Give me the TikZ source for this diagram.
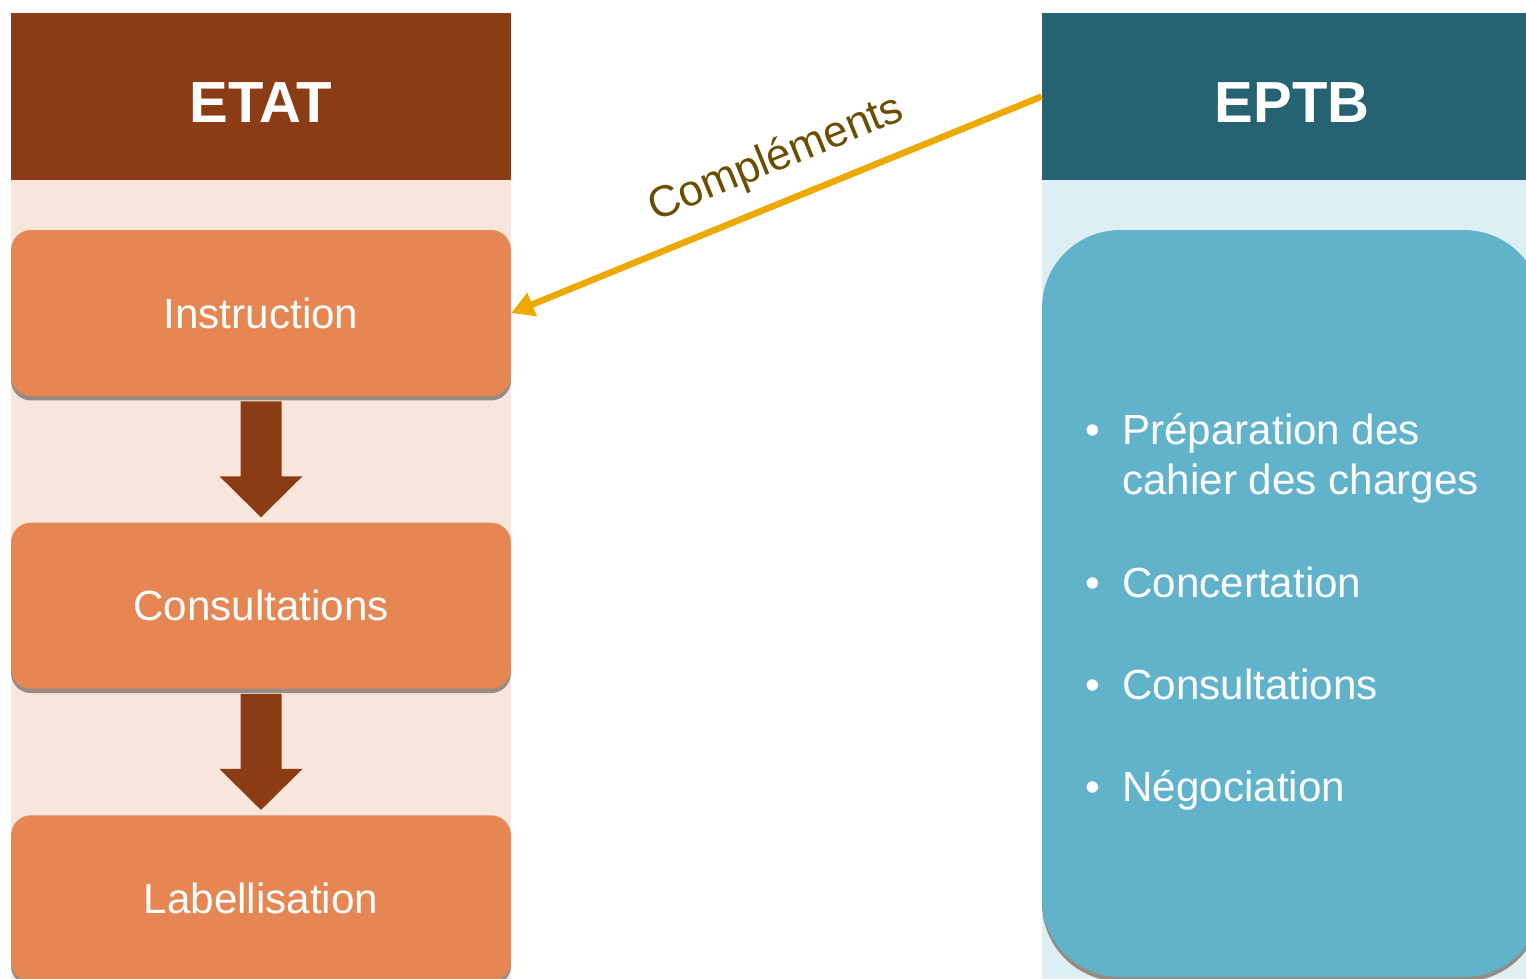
\documentclass[tikz,border=0pt]{standalone}
\usepackage{fontspec}
\setmainfont{Liberation Sans}
\usetikzlibrary{positioning,calc,arrows.meta,shadows}
\definecolor{etatbrown}{RGB}{139,60,20}
\definecolor{etatpale}{RGB}{248,230,220}
\definecolor{etatorange}{RGB}{230,134,82}
\definecolor{eptbteal}{RGB}{37,98,114}
\definecolor{eptbpale}{RGB}{222,239,243}
\definecolor{eptbblue}{RGB}{97,178,203}
\definecolor{boxshadow}{RGB}{150,140,132}
\definecolor{linkgold}{RGB}{237,169,0}
\definecolor{linktext}{RGB}{107,78,0}
\tikzset{
HEAD/.style ={fill=#1, text=white, inner sep=0pt, text height=1.03cm, minimum width=10cm, minimum height=3.34cm, font=\fontsize{33}{38}\selectfont\bfseries},
SHADOW/.style ={drop shadow={shadow xshift=0cm, shadow yshift=-0.09cm, fill=boxshadow, opacity=1}},
BOX/.style ={SHADOW, fill=etatorange, text=white, rounded corners=0.4cm, minimum width=10cm, minimum height=3.32cm, font=\fontsize{24}{28}\selectfont},
PANEL/.style ={SHADOW, fill=eptbblue, rounded corners=1.56cm, minimum width=10cm, minimum height=14.94cm},
ITEM/.style ={text=white, inner sep=0pt, anchor=base west, font=\fontsize{24}{28}\selectfont},
DOWN/.style ={fill=etatbrown},
LINK/.style ={draw=linkgold, line width=0.13cm, -{Triangle[length=0.45cm,width=0.48cm]}},
}
\begin{document}
\begin{tikzpicture}[x=0.02cm,y=-0.02cm,node distance=2.52cm]
	\useasboundingbox (0,0) rectangle (1526,979);
	\clip (0,0) rectangle (1526,979);
	%ETAT column
	\node[HEAD=etatbrown] (etat) at (261,96.5) {ETAT};
	\fill[etatpale] (etat.south west) rectangle ++(500,810);
	\node[BOX] (inst) at (261,313) {Instruction};
	\node[BOX,below=of inst] (consu) {Consultations};
	\node[BOX,below=of consu] (labl) {Labellisation};
	\foreach \a/\b in {inst/consu,consu/labl}
		\fill[DOWN] ($(\a.south)+(-20.5,5)$) -- ++(0,75) -- ++(-21,0)
			-- ($(\b.north)+(0,-5)$) -- ++(41.5,-41) -- ++(-21,0) -- ++(0,-75) -- cycle;
	%EPTB column
	\node[HEAD=eptbteal] (eptb) at (1292,96.5) {EPTB};
	\fill[eptbpale] (eptb.south west) rectangle ++(500,810);
	\node[PANEL] (tasks) at (1292,603.5) {};
	\foreach \yy/\t [count=\i] in {445/Préparation des,598/Concertation,700/Consultations,802/Négociation}{
		\node[ITEM,anchor=base] (dot\i) at (1093,\yy) {\textbullet};
		\node[ITEM] (item\i) at (1122,\yy) {\t};
	}
	\node[ITEM] (item1b) at ($(item1.base west)+(0,50)$) {cahier des charges};
	%Link
	\draw[LINK] (eptb.west) -- node[pos=.47,sloped,above=7pt,text=linktext,font=\fontsize{25}{28}\selectfont] (compl) {Compléments} (inst.east);
\end{tikzpicture}
\end{document}
